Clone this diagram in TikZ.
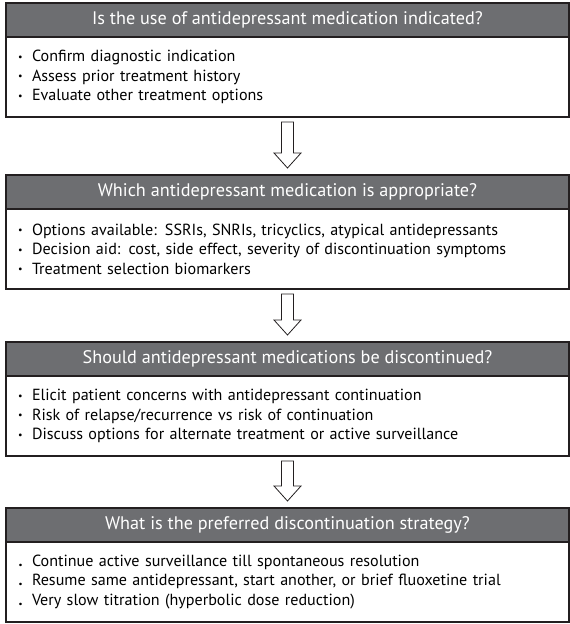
\documentclass[tikz,border=0pt]{standalone}
\usepackage{fontspec}
\setmainfont{PT Sans}
\usetikzlibrary{positioning,calc}
\definecolor{ink}{HTML}{231F20}
\definecolor{hgray}{HTML}{6D6E71}
\newcommand{\bl}{\makebox[15pt][l]{\hspace{1pt}\raisebox{1.5pt}{\fontsize{10}{10}\selectfont\textbullet}}}
\newcommand{\dt}{\makebox[15pt][l]{\hspace{1.5pt}\textbf{.}}}
\tikzset{
  every picture/.style={line width=1.2pt,font=\fontsize{16.1}{19.5}\selectfont},
  hdr/.style={draw=ink,fill=hgray,text=white,font=\fontsize{18.2}{20}\selectfont,minimum width=563pt,minimum height=34pt,inner sep=0pt,outer sep=0pt,anchor=north},
  body/.style={draw=ink,fill=white,text width=541pt,inner xsep=11pt,inner ysep=0pt,minimum height=80pt,outer sep=0pt,align=left},
  hollow/.style={draw=ink,fill=white,line width=0.8pt,line join=miter},
}
\begin{document}
\begin{tikzpicture}[x=1pt,y=1pt]
  \useasboundingbox (0,0) rectangle (570,-624);
  \node[hdr] (h1) at (287.5,-3) {Is the use of antidepressant medication indicated?};
  \node[body,below=0pt of h1] (b1) {\bl Confirm diagnostic indication\\
    \bl Assess prior treatment history\\
    \bl Evaluate other treatment options};
  \node[hdr] (h2) at (287.5,-175) {Which antidepressant medication is appropriate?};
  \node[body,below=0pt of h2] (b2) {\bl Options available: SSRIs, SNRIs, tricyclics, atypical antidepressants\\
    \bl Decision aid: cost, side effect, severity of discontinuation symptoms\\
    \bl Treatment selection biomarkers};
  \node[hdr] (h3) at (287.5,-342) {Should antidepressant medications be discontinued?};
  \node[body,below=0pt of h3] (b3) {\bl Elicit patient concerns with antidepressant continuation\\
    \bl Risk of relapse/recurrence vs risk of continuation\\
    \bl Discuss options for alternate treatment or active surveillance};
  \node[hdr] (h4) at (287.5,-508) {What is the preferred discontinuation strategy?};
  \node[body,below=0pt of h4] (b4) {\dt Continue active surveillance till spontaneous resolution\\
    \dt Resume same antidepressant, start another, or brief fluoxetine trial\\
    \dt Very slow titration (hyperbolic dose reduction)};
  % hollow block arrows between the boxes
  \foreach \a/\b in {b1/h2,b2/h3,b3/h4}
    \draw[hollow] ($(\a.south)+(-6,-5)$) -- ($(\a.south)+(6,-5)$) -- ($(\b.north)+(6,22)$)
      -- ($(\b.north)+(13.5,22)$) -- ($(\b.north)+(0,7)$) -- ($(\b.north)+(-13.5,22)$)
      -- ($(\b.north)+(-6,22)$) -- cycle;
\end{tikzpicture}
\end{document}
